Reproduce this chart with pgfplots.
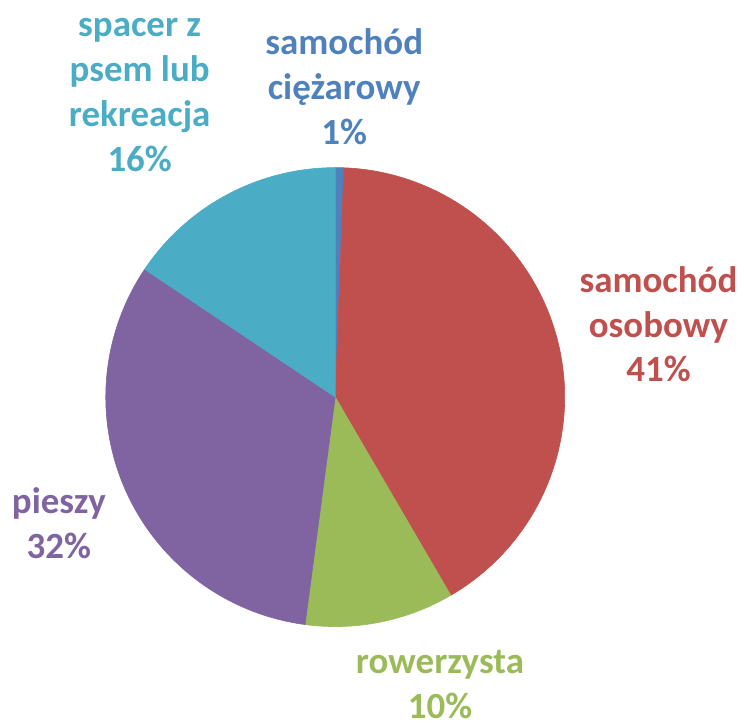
\documentclass[border=0pt]{standalone}
\usepackage{pgfplots}
\usepackage{pgfplotstable}
\pgfplotsset{compat=1.18}
\usepackage{fontspec}
\setmainfont{Carlito}
\definecolor{cTruck}{HTML}{4F81BD}
\definecolor{cCar}{HTML}{C0504D}
\definecolor{cBike}{HTML}{9BBB59}
\definecolor{cWalk}{HTML}{8064A2}
\definecolor{cDog}{HTML}{4BACC6}
\pgfplotstableread{
cat share
truck 0.6
car 41.0
cyclist 10.5
pedestrian 32.3
dog 15.6
}\piedata
\pgfmathsetmacro\aA{0}
\pgfplotstablegetelem{0}{share}\of\piedata
\pgfmathsetmacro\aB{\aA+3.6*\pgfplotsretval}
\pgfplotstablegetelem{1}{share}\of\piedata
\pgfmathsetmacro\aC{\aB+3.6*\pgfplotsretval}
\pgfplotstablegetelem{2}{share}\of\piedata
\pgfmathsetmacro\aD{\aC+3.6*\pgfplotsretval}
\pgfplotstablegetelem{3}{share}\of\piedata
\pgfmathsetmacro\aE{\aD+3.6*\pgfplotsretval}
\pgfplotstablegetelem{4}{share}\of\piedata
\pgfmathsetmacro\aF{\aE+3.6*\pgfplotsretval}
\def\cx{336}
\def\cy{323}
\def\rr{230}
\begin{document}
\begin{tikzpicture}
\begin{axis}[
  width=372pt, height=360.5pt, scale only axis,
  xmin=0, xmax=744, ymin=0, ymax=721,
  hide axis, clip=false,
  samples=80,
  every axis plot/.append style={line width=0.3pt, line join=round},
  nodes={font=\fontsize{18.5}{22.5}\selectfont\bfseries, align=center},
]
\path (rel axis cs:0,0) rectangle (rel axis cs:1,1);
\addplot[fill=cTruck, draw=cTruck, samples=5, domain=\aA:\aB] ({\cx+\rr*sin(x)},{\cy+\rr*cos(x)}) -- (\cx,\cy) -- cycle;
\addplot[fill=cCar, draw=cCar, domain=\aB:\aC] ({\cx+\rr*sin(x)},{\cy+\rr*cos(x)}) -- (\cx,\cy) -- cycle;
\addplot[fill=cBike, draw=cBike, domain=\aC:\aD] ({\cx+\rr*sin(x)},{\cy+\rr*cos(x)}) -- (\cx,\cy) -- cycle;
\addplot[fill=cWalk, draw=cWalk, domain=\aD:\aE] ({\cx+\rr*sin(x)},{\cy+\rr*cos(x)}) -- (\cx,\cy) -- cycle;
\addplot[fill=cDog, draw=cDog, domain=\aE:\aF] ({\cx+\rr*sin(x)},{\cy+\rr*cos(x)}) -- (\cx,\cy) -- cycle;
\node[text=cDog] at (140,625.5) {spacer z\\psem lub\\rekreacja\\16\%};
\node[text=cTruck] at (345,634) {samochód\\ciężarowy\\1\%};
\node[text=cCar] at (660,396) {samochód\\osobowy\\41\%};
\node[text=cWalk] at (59,196.5) {pieszy\\32\%};
\node[text=cBike] at (441,35) {rowerzysta\\10\%};
\end{axis}
\end{tikzpicture}
\end{document}
